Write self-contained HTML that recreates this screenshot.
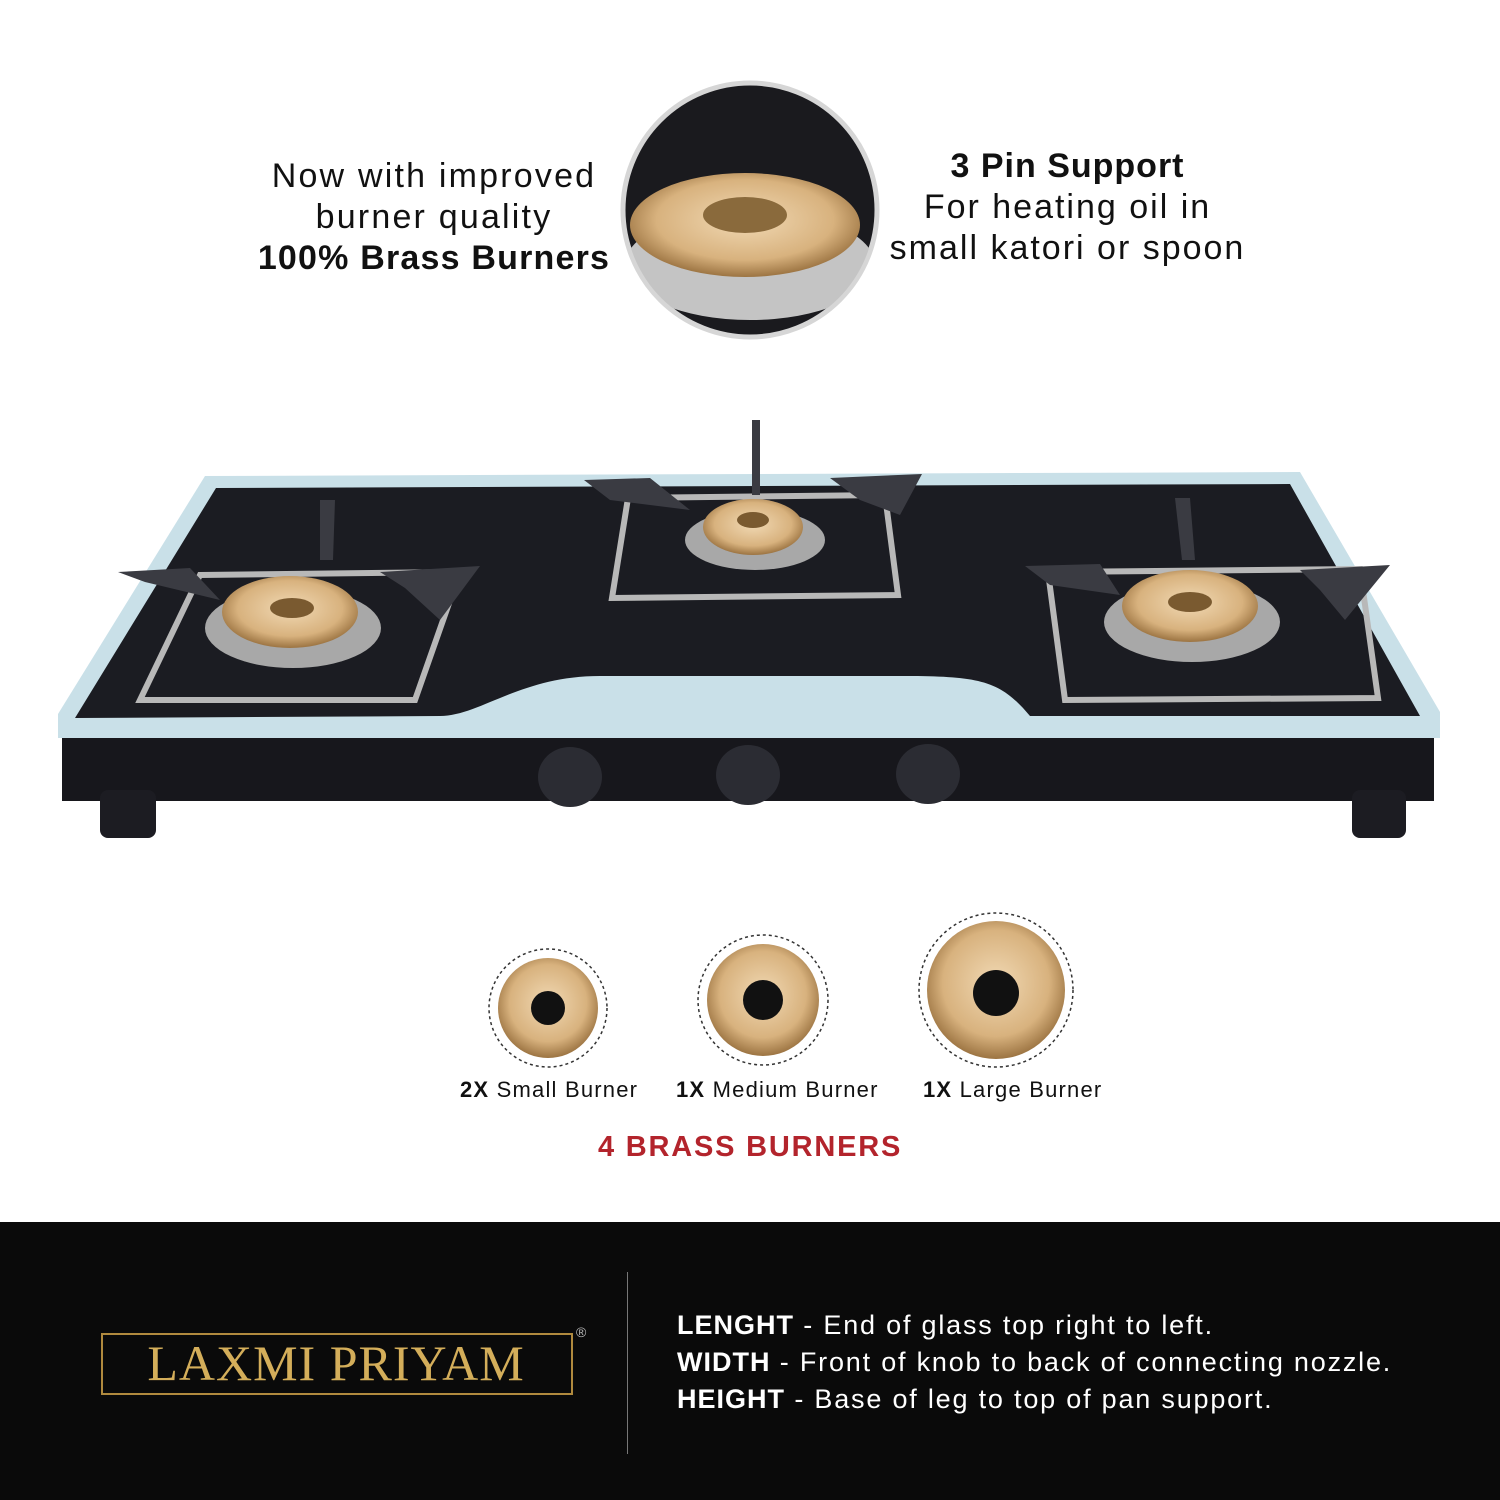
<!DOCTYPE html>
<html><head><meta charset="utf-8"><style>
body{margin:0;width:1500px;height:1500px;background:#fff;position:relative;overflow:hidden;font-family:"Liberation Sans",sans-serif;}
.t{position:absolute;white-space:nowrap;color:#111;}
</style></head><body>
<div class="t" style="left:230px;top:156px;width:408px;text-align:center;font-size:34px;line-height:41px;letter-spacing:2.2px;">Now with improved<br>burner quality<br><b style="letter-spacing:1.2px">100% Brass Burners</b></div>
<div class="t" style="left:880px;top:146px;width:375px;text-align:center;font-size:34px;line-height:41px;letter-spacing:2px;"><b style="letter-spacing:1px">3 Pin Support</b><br>For heating oil in<br>small katori or spoon</div>

<svg width="1500" height="1220" style="position:absolute;left:0;top:0">
 <defs>
  <radialGradient id="br" cx="50%" cy="45%" r="55%"><stop offset="0" stop-color="#f1d9b4"/><stop offset="0.7" stop-color="#d8b27e"/><stop offset="1" stop-color="#9c7442"/></radialGradient>
  <clipPath id="cc"><circle cx="750" cy="210" r="125"/></clipPath>
 </defs>
 <circle cx="750" cy="210" r="127" fill="#1a1a1e" stroke="#d6d6d6" stroke-width="5"/>
 <g clip-path="url(#cc)">
 <ellipse cx="750" cy="265" rx="125" ry="55" fill="#c4c4c4"/>
 <ellipse cx="745" cy="225" rx="115" ry="52" fill="url(#br)"/>
 <ellipse cx="745" cy="215" rx="42" ry="18" fill="#8a6a3c"/>
 </g>
 <rect x="62" y="735" width="1372" height="66" fill="#17171c"/>
 <rect x="100" y="790" width="56" height="48" rx="8" fill="#1c1c22"/>
 <rect x="1352" y="790" width="54" height="48" rx="8" fill="#1c1c22"/>
 <polygon points="205,476 1300,472 1440,712 1440,738 58,738 58,714" fill="#c9e0e8"/>
 <path d="M216,488 L1290,484 L1420,716 L1030,716 C1000,680 980,676 900,676 L600,676 C520,676 480,716 440,716 L75,718 Z" fill="#1b1c22"/>
 <g fill="none" stroke="#b8b8b8" stroke-width="6">
  <polygon points="200,575 460,572 415,700 140,700"/>
  <polygon points="628,498 885,495 898,595 612,598"/>
  <polygon points="1048,572 1360,569 1378,698 1065,700"/>
 </g>
 <g fill="#3a3b42">
  <polygon points="118,572 190,568 220,600 145,582"/><polygon points="380,572 480,566 440,620 405,588"/><polygon points="320,500 335,500 333,560 320,560"/>
  <polygon points="584,480 650,478 690,510 610,500"/><polygon points="830,478 922,474 900,515 860,500"/><polygon points="752,420 760,420 760,495 752,495"/>
  <polygon points="1025,566 1100,564 1120,595 1050,585"/><polygon points="1300,570 1390,565 1345,620 1320,590"/><polygon points="1175,498 1190,498 1195,560 1182,560"/>
 </g>
 <g>
  <ellipse cx="293" cy="628" rx="88" ry="40" fill="#a8a8a8"/><ellipse cx="290" cy="612" rx="68" ry="36" fill="url(#br)"/><ellipse cx="292" cy="608" rx="22" ry="10" fill="#7a5a30"/>
  <ellipse cx="755" cy="540" rx="70" ry="30" fill="#a8a8a8"/><ellipse cx="753" cy="527" rx="50" ry="28" fill="url(#br)"/><ellipse cx="753" cy="520" rx="16" ry="8" fill="#7a5a30"/>
  <ellipse cx="1192" cy="622" rx="88" ry="40" fill="#a8a8a8"/><ellipse cx="1190" cy="606" rx="68" ry="36" fill="url(#br)"/><ellipse cx="1190" cy="602" rx="22" ry="10" fill="#7a5a30"/>
 </g>
 <g fill="#2b2c33">
  <ellipse cx="570" cy="777" rx="32" ry="30"/><ellipse cx="748" cy="775" rx="32" ry="30"/><ellipse cx="928" cy="774" rx="32" ry="30"/>
 </g>
 <g>
  <circle cx="548" cy="1008" r="59" fill="#fff" stroke="#333" stroke-width="1.5" stroke-dasharray="3 3"/>
  <circle cx="548" cy="1008" r="50" fill="url(#br)"/><circle cx="548" cy="1008" r="17" fill="#111"/>
  <circle cx="763" cy="1000" r="65" fill="#fff" stroke="#333" stroke-width="1.5" stroke-dasharray="3 3"/>
  <circle cx="763" cy="1000" r="56" fill="url(#br)"/><circle cx="763" cy="1000" r="20" fill="#111"/>
  <circle cx="996" cy="990" r="77" fill="#fff" stroke="#333" stroke-width="1.5" stroke-dasharray="3 3"/>
  <circle cx="996" cy="990" r="69" fill="url(#br)"/><circle cx="996" cy="993" r="23" fill="#111"/>
 </g>
</svg>

<div class="t" style="left:460px;top:1077px;font-size:22px;letter-spacing:1.2px;"><b>2X</b> Small Burner</div>
<div class="t" style="left:676px;top:1077px;font-size:22px;letter-spacing:1.2px;"><b>1X</b> Medium Burner</div>
<div class="t" style="left:923px;top:1077px;font-size:22px;letter-spacing:1.2px;"><b>1X</b> Large Burner</div>
<div class="t" style="left:598px;top:1131px;font-size:29px;font-weight:bold;color:#b3242c;letter-spacing:1.8px;">4 BRASS BURNERS</div>

<div style="position:absolute;left:0;top:1222px;width:1500px;height:278px;background:#0a0a0a;"></div>
<div style="position:absolute;left:627px;top:1272px;width:1px;height:182px;background:#777;"></div>
<div style="position:absolute;left:101px;top:1333px;width:468px;height:58px;border:2px solid #b08a3e;"></div>
<div class="t" style="left:108px;top:1334px;width:456px;text-align:center;font-family:'Liberation Serif',serif;font-size:50px;color:#d4ae5a;letter-spacing:1px;">LAXMI PRIYAM</div>
<div class="t" style="left:576px;top:1324px;font-size:14px;color:#bbb;">®</div>
<div class="t" style="left:677px;top:1307px;font-size:27px;line-height:37px;color:#fff;letter-spacing:1.8px;"><b style="letter-spacing:1px">LENGHT</b> - End of glass top right to left.<br><b style="letter-spacing:1px">WIDTH</b> - Front of knob to back of connecting nozzle.<br><b style="letter-spacing:1px">HEIGHT</b> - Base of leg to top of pan support.</div>
</body></html>
